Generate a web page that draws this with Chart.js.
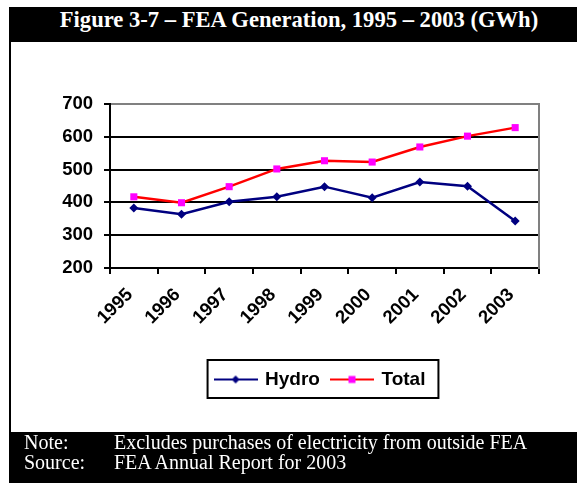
<!DOCTYPE html>
<html>
<head>
<meta charset="utf-8">
<script src="https://cdn.jsdelivr.net/npm/chart.js@4.4.1/dist/chart.umd.min.js"></script>
<style>
  html, body { margin: 0; padding: 0; background: #fff; width: 577px; height: 483px; overflow: hidden; }
  .frame { position: absolute; left: 9px; top: 7px; width: 568px; height: 476px; background: #000; }
  .title { position: absolute; left: 12px; top: 0; width: 556px; height: 35px; line-height: 35px;
           color: #fff; font: bold 22.6px "Liberation Serif", "Times New Roman", serif; text-align: center; white-space: nowrap; }
  .panel { position: absolute; left: 2px; top: 35px; width: 566px; height: 390px; background: #fff; }
  .foot { position: absolute; left: 0; top: 425px; width: 568px; height: 51px; color: #fff;
          font: 20px "Liberation Serif", "Times New Roman", serif; }
  .foot div { position: absolute; left: 15px; white-space: nowrap; line-height: 20px; }
  .foot .k { display: inline-block; width: 90px; }
</style>
</head>
<body>
<div class="frame">
  <div class="title">Figure 3-7 – FEA Generation, 1995 – 2003 (GWh)</div>
  <div class="panel"><canvas id="genChart" width="566" height="390"></canvas></div>
  <div class="foot">
    <div style="top:0px"><span class="k">Note:</span>Excludes purchases of electricity from outside FEA</div>
    <div style="top:20px"><span class="k">Source:</span>FEA Annual Report for 2003</div>
  </div>
</div>
<script>
const years = ["1995", "1996", "1997", "1998", "1999", "2000", "2001", "2002", "2003"];
const hydro = [383, 364, 402, 417, 448, 414, 462, 449, 343];
const total = [417, 399, 448, 502, 527, 523, 569, 602, 628];
const yTicks = [200, 300, 400, 500, 600, 700];

const NAVY = "#000080";
const RED = "#ff0000";
const MAGENTA = "#ff00ff";
const TICK_FONT = { family: "'Liberation Sans', Arial, sans-serif", size: 18.5, weight: "bold" };

// little line + marker picture for the legend
const legendIcon = (line, fill, diamond) => {
    const off = document.createElement("canvas");
    off.width = 44; off.height = 12;
    const c = off.getContext("2d");
    c.strokeStyle = line; c.lineWidth = 2;
    c.beginPath(); c.moveTo(0, 6); c.lineTo(44, 6); c.stroke();
    c.fillStyle = fill;
    if (diamond) {
        c.beginPath(); c.moveTo(22, 2); c.lineTo(26, 6); c.lineTo(22, 10); c.lineTo(18, 6); c.closePath(); c.fill();
    } else {
        c.fillRect(18.5, 2.5, 7, 7);
    }
    return off;
};

const legendFrame = {
    id: "legendFrame",
    afterLayout(chart) {
        // centre the legend under the plot area, as Excel does
        const lg = chart.legend, ca = chart.chartArea;
        lg.left = ca.left - 4;
        lg.right = ca.right - 4;
        lg.width = lg.right - lg.left;
    },
    afterDraw(chart) {
        const boxes = chart.legend.legendHitBoxes;
        if (!boxes || !boxes.length) return;
        const first = boxes[0], last = boxes[boxes.length - 1];
        const ctx = chart.ctx;
        ctx.save();
        ctx.strokeStyle = "#000";
        ctx.lineWidth = 2;
        ctx.strokeRect(first.left - 8, first.top - 10, last.left + last.width - first.left + 21, first.height + 19);
        ctx.restore();
    }
};

new Chart(document.getElementById("genChart"), {
    type: "line",
    data: {
        labels: years,
        datasets: [
            {
                label: "Hydro",
                data: hydro,
                borderColor: NAVY,
                backgroundColor: NAVY,
                borderWidth: 2.5,
                pointStyle: "rectRot",
                pointRadius: 4.5,
                pointBackgroundColor: NAVY,
                pointBorderColor: NAVY,
                pointBorderWidth: 0,
                tension: 0,
            },
            {
                label: "Total",
                data: total,
                borderColor: RED,
                backgroundColor: MAGENTA,
                borderWidth: 2.5,
                pointStyle: "rect",
                pointRadius: 5,
                pointBackgroundColor: MAGENTA,
                pointBorderColor: MAGENTA,
                pointBorderWidth: 0,
                tension: 0,
            }
        ]
    },
    options: {
        responsive: false,
        animation: false,
        layout: { padding: { top: 62, left: 0, right: 38, bottom: 33 } },
        plugins: {
            tooltip: { enabled: false },
            legend: {
                position: "bottom",
                labels: {
                    color: "#000",
                    font: { family: "'Liberation Sans', Arial, sans-serif", size: 19, weight: "bold" },
                    padding: 12,
                    usePointStyle: true,
                    pointStyleWidth: 40,
                    generateLabels: (chart) => {
                        const items = Chart.defaults.plugins.legend.labels.generateLabels(chart);
                        items.forEach((it, i) => {
                            it.pointStyle = i === 0 ? legendIcon(NAVY, NAVY, true) : legendIcon(RED, MAGENTA, false);
                            it.fillStyle = "transparent";
                            it.strokeStyle = "transparent";
                        });
                        return items;
                    }
                }
            }
        },
        scales: {
            x: {
                offset: true,
                afterFit: (axis) => { axis.height = 90; },
                border: { color: "#000", width: 2 },
                grid: { offset: true, drawOnChartArea: false, color: "#000", lineWidth: 2, tickLength: 6 },
                ticks: {
                    color: "#000",
                    font: TICK_FONT,
                    maxRotation: 45, minRotation: 45,
                    padding: 10,
                    labelOffset: -4
                }
            },
            y: {
                min: 200, max: 700,
                afterFit: (axis) => { axis.width = 99; },
                afterBuildTicks: (axis) => { axis.ticks = yTicks.map(v => ({ value: v })); },
                border: { color: "#000", width: 2 },
                grid: {
                    color: (ctx) => (ctx.tick && ctx.tick.value === 700 ? "#808080" : "#000"),
                    tickColor: "#000",
                    lineWidth: 2,
                    tickLength: 6
                },
                ticks: { color: "#000", font: TICK_FONT, padding: 11 }
            },
            yRight: {
                position: "right",
                min: 200, max: 700,
                afterFit: (axis) => { axis.width = 0; },
                border: { color: "#808080", width: 2 },
                grid: { drawOnChartArea: false, drawTicks: false },
                ticks: { display: false }
            }
        }
    },
    plugins: [legendFrame]
});
</script>
</body>
</html>
